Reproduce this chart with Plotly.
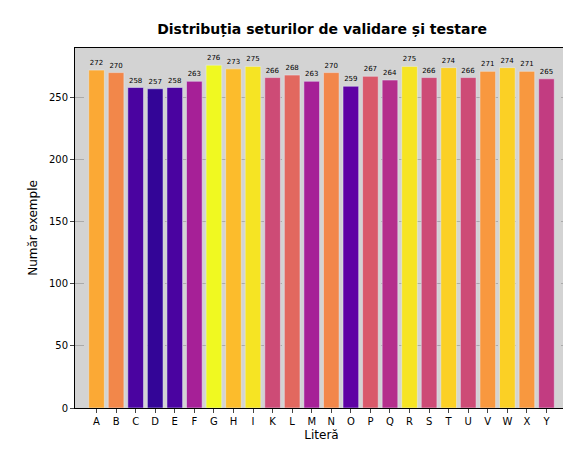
import plotly.graph_objects as go

litere = ['A', 'B', 'C', 'D', 'E', 'F', 'G', 'H', 'I', 'K', 'L', 'M', 'N',
          'O', 'P', 'Q', 'R', 'S', 'T', 'U', 'V', 'W', 'X', 'Y']
exemple = [272, 270, 258, 257, 258, 263, 276, 273, 275, 266, 268, 263, 270,
           259, 267, 264, 275, 266, 274, 266, 271, 274, 271, 265]

fig = go.Figure(go.Bar(
    x=litere, y=exemple,
    marker=dict(color=exemple, colorscale='Plasma', cmin=min(exemple) - 1.5, cmax=max(exemple)),
    text=[str(v) for v in exemple], textposition='outside',
    textfont=dict(size=7, color='black'), cliponaxis=False,
))

fig.update_layout(
    width=571, height=453,
    margin=dict(l=67, r=11, t=40, b=53, autoexpand=False),
    paper_bgcolor='white', plot_bgcolor='#d3d3d3',
    font=dict(family='DejaVu Sans', size=10, color='black'),
    title=dict(text='<b>Distribuția seturilor de validare și testare</b>',
               x=0.55, xanchor='center', y=0.965, font=dict(size=14)),
    bargap=0.2, showlegend=False,
)
fig.update_xaxes(title=dict(text='Literă', standoff=4), showline=True, linecolor='black',
                 mirror=True, ticks='outside', ticklen=4, showgrid=False,
                 range=[-1.1, 24.1], automargin=False)
fig.update_yaxes(title=dict(text='Număr exemple', standoff=8), range=[0, 289.8],
                 showline=True, linecolor='black', mirror=True, ticks='outside', ticklen=4,
                 tickvals=[0, 50, 100, 150, 200, 250], showgrid=True, automargin=False,
                 gridcolor='#aaaaaa', griddash='dash', gridwidth=0.7, zeroline=False)

fig.write_html("out.html")
